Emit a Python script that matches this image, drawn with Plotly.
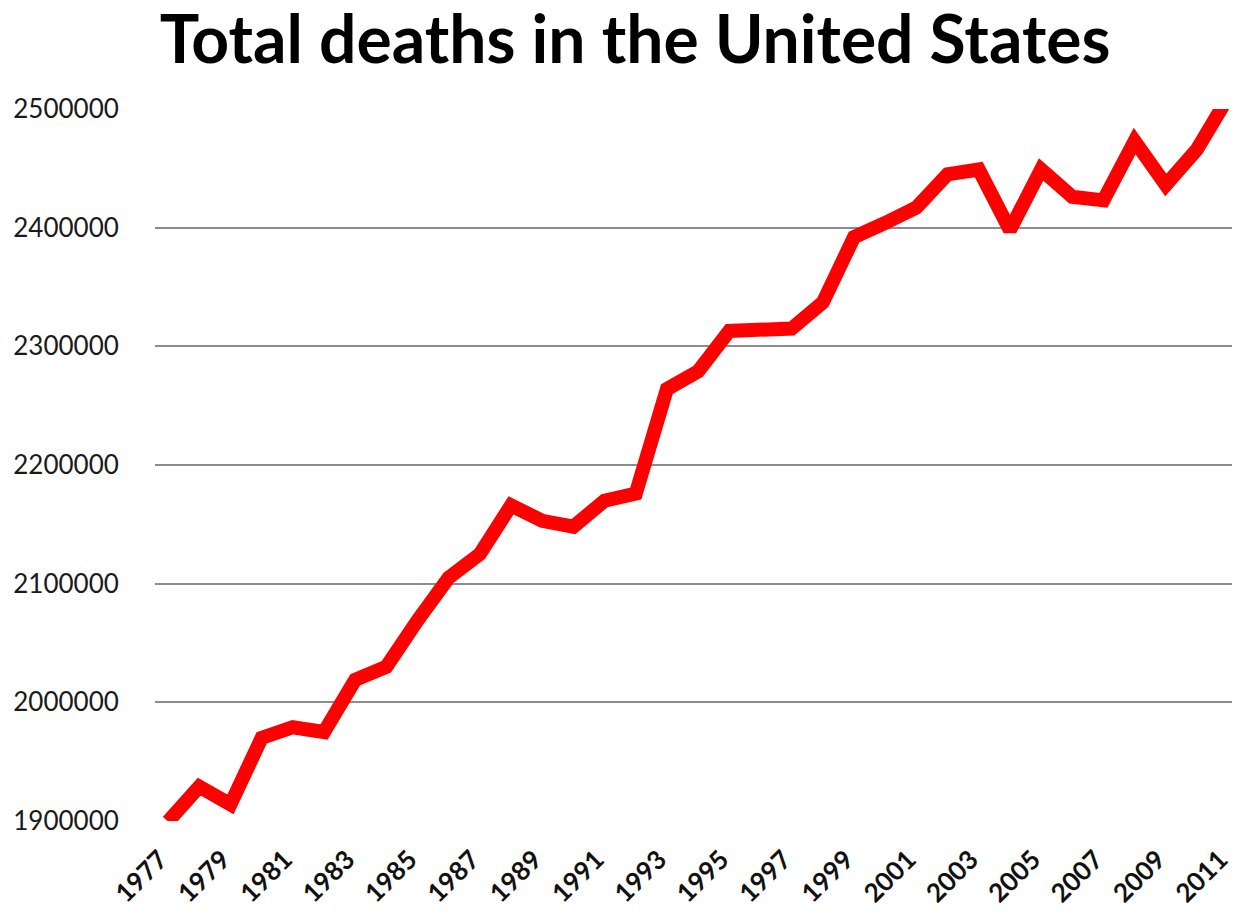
import plotly.graph_objects as go

years = list(range(1977, 2012))
deaths = [
    1899600, 1929000, 1914000, 1970000, 1979000, 1975000, 2019000, 2030000,
    2069000, 2105000, 2125000, 2166000, 2153000, 2148000, 2170000, 2176000,
    2264000, 2279000, 2313000, 2315000, 2315000, 2337000, 2392000, 2404000,
    2417000, 2445000, 2449000, 2398000, 2449000, 2426000, 2423000, 2473000,
    2436000, 2466000, 2510000,
]
tick_years = list(range(1977, 2012, 2))
y_ticks = list(range(1900000, 2500001, 100000))

fig = go.Figure()
fig.add_trace(go.Scatter(
    x = years,
    y = deaths,
    mode = 'lines',
    line = dict(color = '#FF0000', width = 14),
    showlegend = False,
))

# page body has an 8px margin, so the figure is a bit smaller and shifted
fig.update_layout(
    width = 1232,
    height = 911,
    margin = dict(l = 147, r = 0, t = 101, b = 98),
    plot_bgcolor = 'white',
    paper_bgcolor = 'white',
    font = dict(family = 'Lato', color = '#1a1a1a'),
    title = dict(
        text = '<b>Total deaths in the United States</b>',
        x = 0.509,
        xanchor = 'center',
        y = 0.99,
        yanchor = 'top',
        font = dict(family = 'Lato', size = 66, color = '#000000'),
    ),
    xaxis = dict(
        range = [1976.58, 2011.38],
        tickvals = tick_years,
        ticktext = [f'<b>{t}</b>' for t in tick_years],
        tickangle = -45,
        tickfont = dict(size = 26, color = '#111111'),
        ticklabeloverflow = 'allow',
        ticklabelshift = -8,
        automargin = False,
        showgrid = False,
        zeroline = False,
        ticks = 'outside',
        ticklen = 12,
        tickcolor = 'rgba(0,0,0,0)',
    ),
    yaxis = dict(
        range = [1900000, 2500000],
        tickvals = y_ticks,
        ticktext = [str(v) for v in y_ticks],
        tickfont = dict(size = 26, color = '#1a1a1a'),
        automargin = False,
        showgrid = True,
        gridcolor = '#8c8c8c',
        gridwidth = 1.5,
        zeroline = False,
        ticks = 'outside',
        ticklen = 30,
        tickcolor = 'rgba(0,0,0,0)',
    ),
)

fig.write_html('out.html')
